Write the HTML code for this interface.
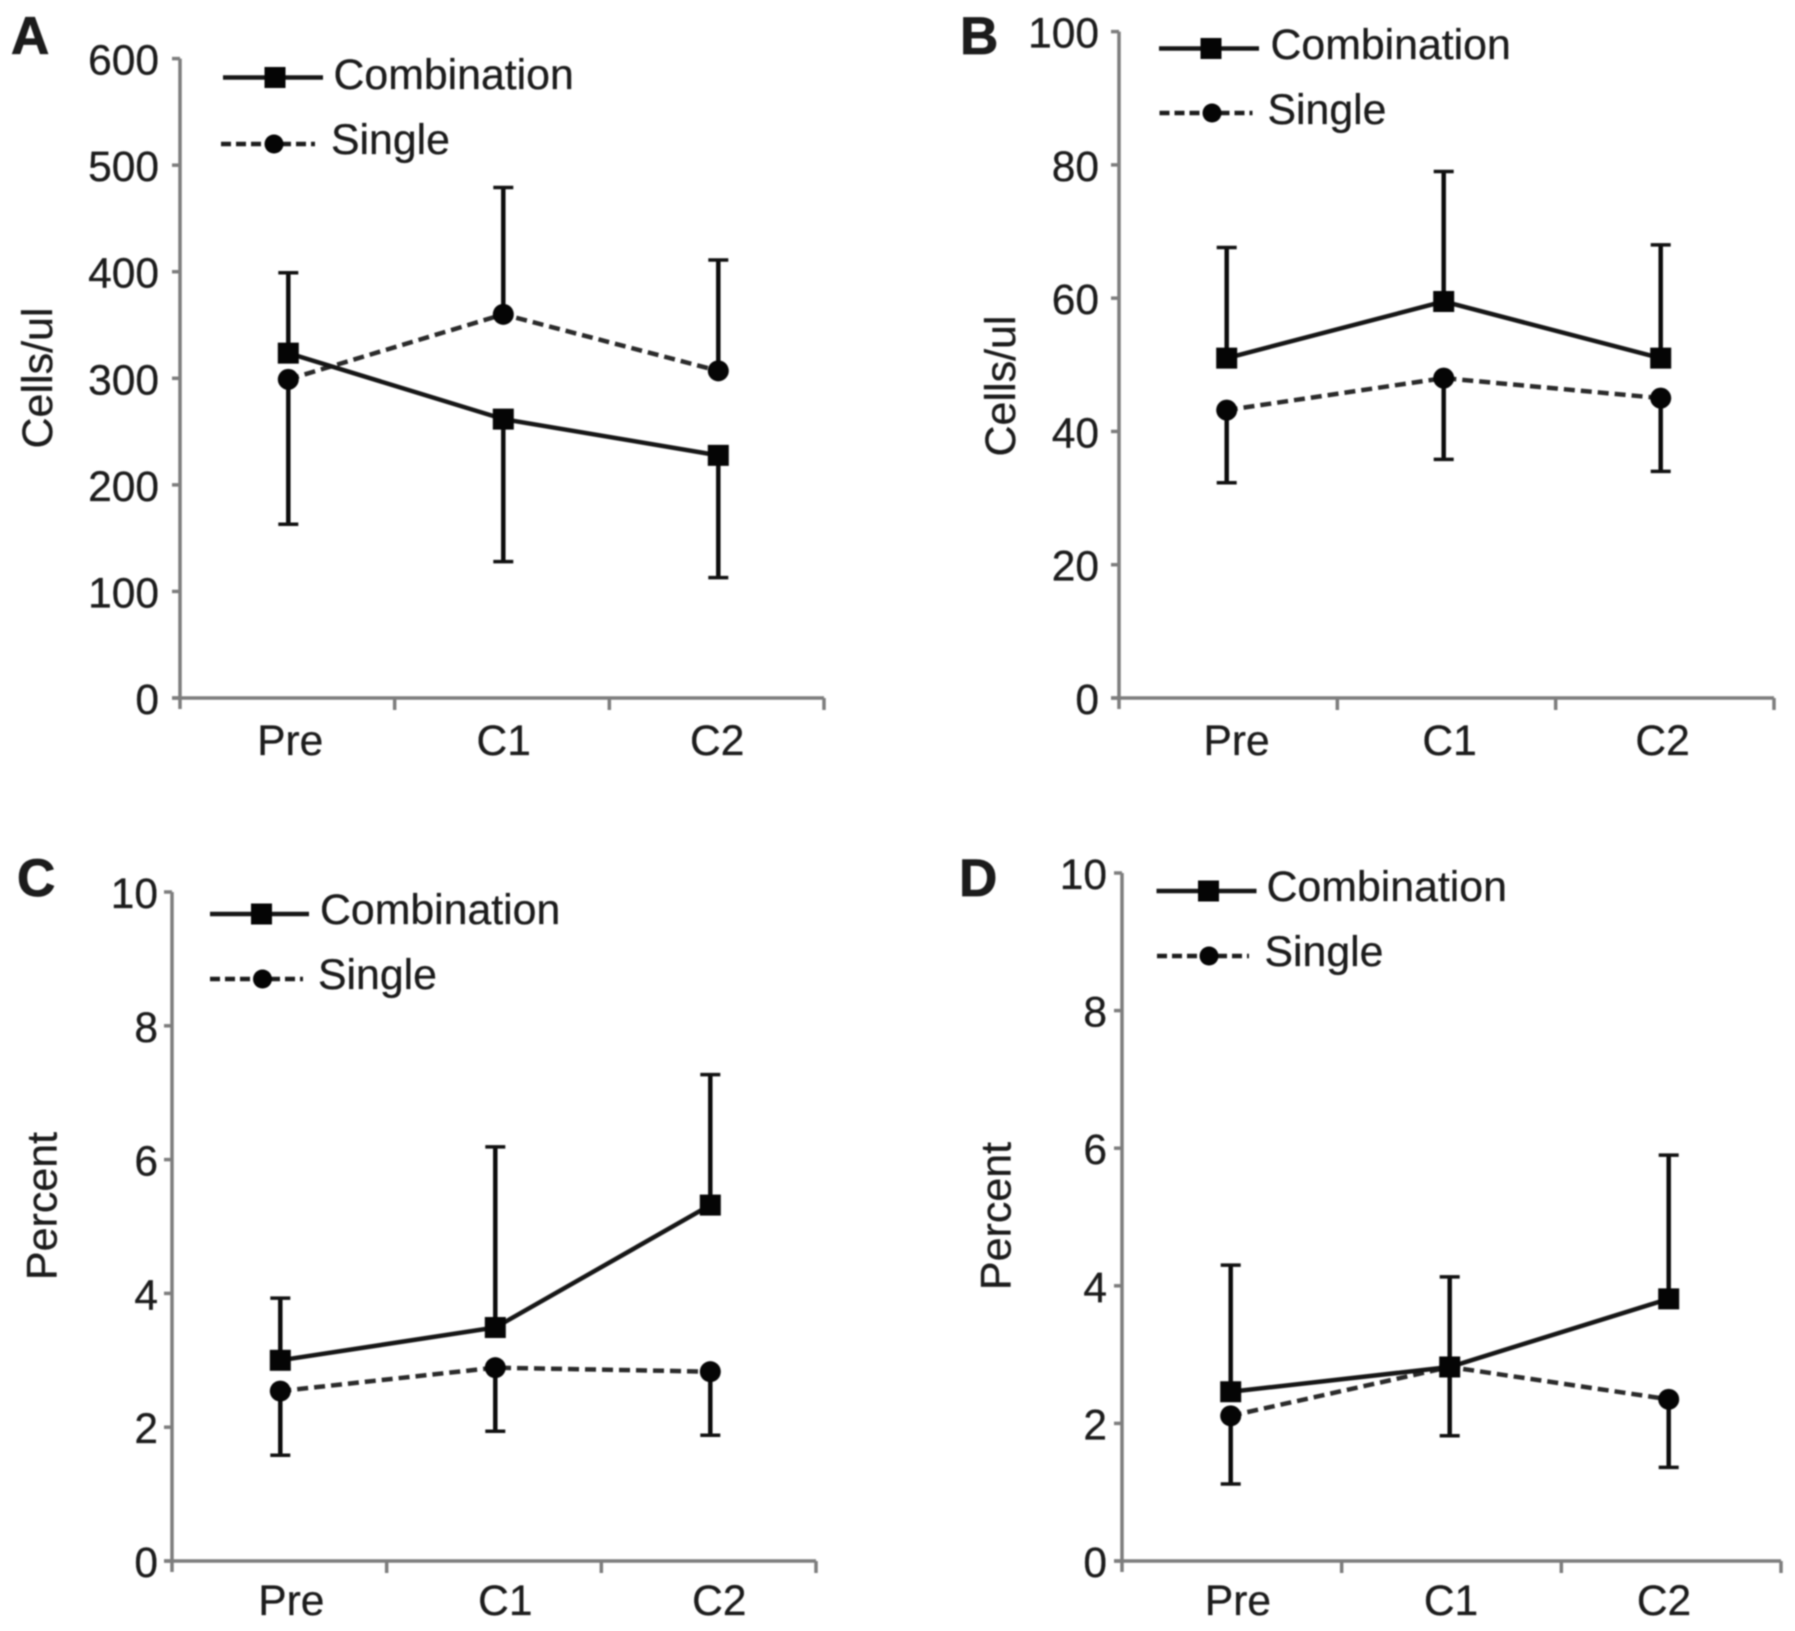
<!DOCTYPE html>
<html lang="en">
<head>
<meta charset="utf-8">
<title>Four panel line charts: Combination vs Single</title>
<style>
html,body{margin:0;padding:0;background:#fff;}
#figure{display:block;width:1795px;height:1631px;filter:blur(0.7px);}
text{font-family:"Liberation Sans",sans-serif;fill:#1c1c1c;stroke:#1c1c1c;stroke-width:0.3px;}
</style>
</head>
<body>
<svg id="figure" xmlns="http://www.w3.org/2000/svg" width="1795" height="1631" viewBox="0 0 1795 1631"></svg>
<script>
const categories = ['Pre', 'C1', 'C2'];
const seriesNames = ['Combination', 'Single'];

const ticksA = [0, 100, 200, 300, 400, 500, 600];
const combinationA = [323.6, 261.7, 227.7];
const combinationBoundA = [399, 128, 113];
const singleA = [299, 360, 307];
const singleBoundA = [163, 479, 411];

const ticksB = [0, 20, 40, 60, 80, 100];
const combinationB = [51, 59.5, 51];
const combinationBoundB = [67.6, 79, 68];
const singleB = [43.2, 48, 45];
const singleBoundB = [32.3, 35.8, 34];

const ticksC = [0, 2, 4, 6, 8, 10];
const combinationC = [3.0, 3.49, 5.32];
const combinationBoundC = [3.93, 6.19, 7.27];
const singleC = [2.54, 2.89, 2.83];
const singleBoundC = [1.58, 1.94, 1.88];

const ticksD = [0, 2, 4, 6, 8, 10];
const combinationD = [2.46, 2.82, 3.81];
const combinationBoundD = [4.3, 4.13, 5.9];
const singleD = [2.11, 2.82, 2.35];
const singleBoundD = [1.12, 1.82, 1.36];

const svg = document.getElementById('figure');
const NS = 'http://www.w3.org/2000/svg';

function make(tag, parent, attrs, text) {
  const el = document.createElementNS(NS, tag);
  for (const k in attrs) el.setAttribute(k, attrs[k]);
  if (text !== undefined) el.textContent = text;
  parent.appendChild(el);
  return el;
}

function drawPanel(p) {
  const id = p.letter.toLowerCase();
  const maxTick = p.ticks[p.ticks.length - 1];
  const band = (p.right - p.left) / categories.length;
  const xScale = i => p.pointLeft + p.pointStep * i;
  const catScale = i => p.catLeft + p.catStep * i;
  const yScale = v => p.bottom - (v / maxTick) * (p.bottom - p.top);

  const g = make('g', svg, {});
  
  

  const letter = make('text', g, {x: p.letterX, y: p.letterY, 'font-size': 53, 'font-weight': 'bold', style: 'stroke-width:0.8px'}, p.letter);
  
  

  // axes
  const yAxis = make('line', g, {x1: p.left, x2: p.left, y1: p.top, y2: p.bottom + 11, stroke: '#7d7d7d', 'stroke-width': 3.5});
  
  
  const xAxis = make('line', g, {x1: p.left - 8, x2: p.right, y1: p.bottom, y2: p.bottom, stroke: '#7d7d7d', 'stroke-width': 3.5});
  
  

  p.ticks.forEach(t => {
    const tick = make('line', g, {x1: p.left - 8, x2: p.left, y1: yScale(t), y2: yScale(t), stroke: '#7d7d7d', 'stroke-width': 3.5});
    
    
    const label = make('text', g, {x: p.labelRight, y: yScale(t) + 16, 'text-anchor': 'end', 'font-size': 42.5}, String(t));
    
    
  });

  for (let i = 1; i <= categories.length; i++) {
    const xt = p.left + band * i;
    const tick = make('line', g, {x1: xt, x2: xt, y1: p.bottom, y2: p.bottom + 12, stroke: '#7d7d7d', 'stroke-width': 3.5});
    
    
  }

  categories.forEach((c, i) => {
    const label = make('text', g, {x: catScale(i), y: p.catY, 'text-anchor': 'middle', 'font-size': 42.5}, c);
    
    
  });

  const title = make('text', g, {transform: 'translate(' + p.titleX + ' ' + p.titleY + ') rotate(-90)', 'text-anchor': 'middle', 'font-size': 43}, p.title);
  
  

  // error bars
  function errorBars(values, bounds, name) {
    values.forEach((v, i) => {
      const bar = make('line', g, {x1: xScale(i), x2: xScale(i), y1: yScale(v), y2: yScale(bounds[i]), stroke: '#0c0c0c', 'stroke-width': 4.5});
      
      
      const cap = make('line', g, {x1: xScale(i) - 10, x2: xScale(i) + 10, y1: yScale(bounds[i]), y2: yScale(bounds[i]), stroke: '#111', 'stroke-width': 3.5});
      
      
    });
  }
  errorBars(p.combination, p.combinationBound, 'combination');
  errorBars(p.single, p.singleBound, 'single');

  // lines
  const singlePts = p.single.map((v, i) => xScale(i) + ',' + yScale(v)).join(' ');
  const singleLine = make('polyline', g, {points: singlePts, fill: 'none', stroke: '#2a2a2a', 'stroke-width': 4.5, 'stroke-dasharray': '11 6'});
  
  
  const comboPts = p.combination.map((v, i) => xScale(i) + ',' + yScale(v)).join(' ');
  const comboLine = make('polyline', g, {points: comboPts, fill: 'none', stroke: '#161616', 'stroke-width': 4.5});
  
  

  // markers
  p.single.forEach((v, i) => {
    const m = make('circle', g, {cx: xScale(i), cy: yScale(v), r: 10.5, fill: '#050505'});
    
    
  });
  p.combination.forEach((v, i) => {
    const m = make('rect', g, {x: xScale(i) - 10.5, y: yScale(v) - 10.5, width: 21, height: 21, fill: '#050505'});
    
    
  });

  // legend
  const l = p.legend;
  const lg = make('g', g, {});
  
  

  const e1 = make('g', lg, {});
  
  
  make('line', e1, {x1: l.c[0], x2: l.c[1], y1: l.c[2], y2: l.c[2], stroke: '#161616', 'stroke-width': 4.5});
  make('rect', e1, {x: (l.c[0] + l.c[1]) / 2 + 2 - 10.5, y: l.c[2] - 10.5, width: 21, height: 21, fill: '#050505'});
  make('text', e1, {x: l.c[3], y: l.c[4], 'font-size': 42.8}, seriesNames[0]);

  const e2 = make('g', lg, {});
  
  
  make('line', e2, {x1: l.s[0], x2: l.s[1], y1: l.s[2], y2: l.s[2], stroke: '#1c1c1c', 'stroke-width': 4.5, 'stroke-dasharray': '10 5'});
  make('circle', e2, {cx: (l.s[0] + l.s[1]) / 2 + 6, cy: l.s[2], r: 9.5, fill: '#050505'});
  make('text', e2, {x: l.s[3], y: l.s[4], 'font-size': 42.8}, seriesNames[1]);
}

drawPanel({letter: 'A', letterX: 11, letterY: 54, title: 'Cells/ul', titleX: 52, titleY: 378,
  left: 180, right: 824, top: 58.6, bottom: 698, labelRight: 159, catY: 755,
  pointLeft: 288.3, pointStep: 215, catLeft: 290.2, catStep: 213.5,
  ticks: ticksA, combination: combinationA, combinationBound: combinationBoundA, single: singleA, singleBound: singleBoundA,
  legend: {c: [223, 323, 77.5, 333.5, 89], s: [221, 315, 144, 331, 154]}});

drawPanel({letter: 'B', letterX: 960, letterY: 54, title: 'Cells/ul', titleX: 1015, titleY: 386,
  left: 1119, right: 1774, top: 31.6, bottom: 698, labelRight: 1099, catY: 755,
  pointLeft: 1226.7, pointStep: 217, catLeft: 1236.6, catStep: 213,
  ticks: ticksB, combination: combinationB, combinationBound: combinationBoundB, single: singleB, singleBound: singleBoundB,
  legend: {c: [1159, 1259, 48.5, 1270.5, 59], s: [1159.5, 1252.5, 113, 1267.5, 124]}});

drawPanel({letter: 'C', letterX: 17, letterY: 896, title: 'Percent', titleX: 56.5, titleY: 1206,
  left: 172, right: 816, top: 892, bottom: 1561, labelRight: 158, catY: 1615,
  pointLeft: 280.3, pointStep: 215, catLeft: 291.3, catStep: 214,
  ticks: ticksC, combination: combinationC, combinationBound: combinationBoundC, single: singleC, singleBound: singleBoundC,
  legend: {c: [210, 309, 914, 320, 924], s: [210, 303, 979, 318, 989]}});

drawPanel({letter: 'D', letterX: 959, letterY: 896, title: 'Percent', titleX: 1010.5, titleY: 1216,
  left: 1122, right: 1781, top: 873, bottom: 1561, labelRight: 1107, catY: 1615,
  pointLeft: 1230.7, pointStep: 219, catLeft: 1238, catStep: 213,
  ticks: ticksD, combination: combinationD, combinationBound: combinationBoundD, single: singleD, singleBound: singleBoundD,
  legend: {c: [1156.5, 1256.5, 891, 1266.6, 901], s: [1157, 1249, 956, 1264.5, 966]}});
</script>
</body>
</html>
